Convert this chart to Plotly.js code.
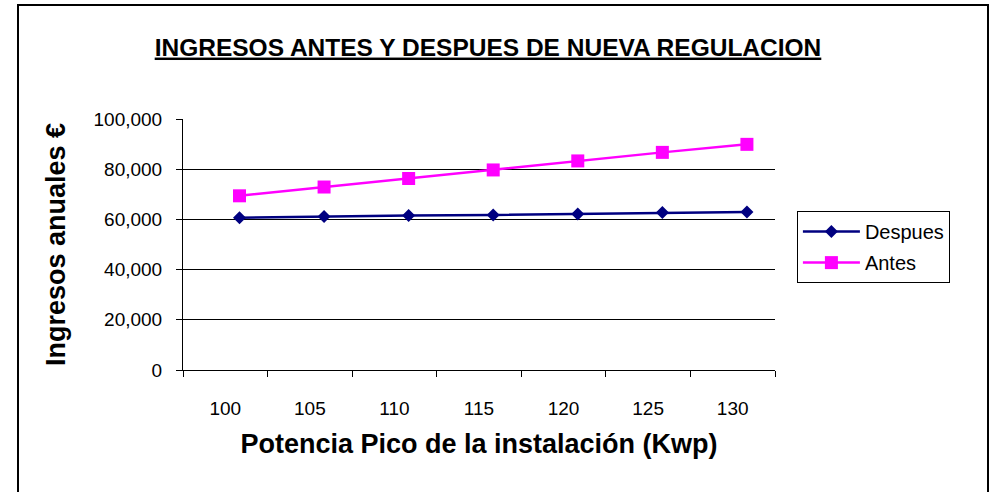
<!DOCTYPE html>
<html>
<head>
<meta charset="utf-8">
<script src="https://cdn.plot.ly/plotly-3.0.1.min.js"></script>
<style>
  html, body { margin: 0; padding: 0; background: #fff; }
  #wrap { position: relative; width: 991px; height: 492px; overflow: hidden; }
  #chart { position: absolute; left: 0; top: 0; width: 991px; height: 492px; }
  #frame { position: absolute; left: 17px; top: 4px; width: 968px; height: 520px;
           border: 2px solid #000; pointer-events: none; }
</style>
</head>
<body>
<div id="wrap">
  <div id="chart"></div>
  <div id="frame"></div>
</div>
<script>
// ---- data ----
const categories = ["100", "105", "110", "115", "120", "125", "130"];
const despues = [60700, 61200, 61600, 61800, 62200, 62700, 62900];
const antes   = [69400, 72900, 76300, 79700, 83300, 86700, 89900];
const yTicks  = [0, 20000, 40000, 60000, 80000, 100000];

const FONT = "Arial, 'Liberation Sans', sans-serif";

const traces = [
  { x: categories, y: despues, name: "Despues", type: "scatter", mode: "lines+markers",
    xaxis: "x", yaxis: "y", legendgroup: "a",
    line: { color: "#000080", width: 2.5 },
    marker: { symbol: "diamond", size: 10, color: "#000080" } },
  { x: categories, y: antes, name: "Antes", type: "scatter", mode: "lines+markers",
    xaxis: "x", yaxis: "y", legendgroup: "b",
    line: { color: "#FF00FF", width: 2.5 },
    marker: { symbol: "square", size: 13, color: "#FF00FF" } },
  // empty helper trace so the label axis (x2) is drawn
  { x: [], y: [], type: "scatter", mode: "markers", xaxis: "x2", yaxis: "y",
    showlegend: false, hoverinfo: "skip" }
];

const labelPos = categories.map((c, i) => i + 0.5);

const layout = {
  width: 991, height: 492,
  paper_bgcolor: "#fff", plot_bgcolor: "#fff",
  margin: { l: 183, r: 216, t: 119, b: 122 },
  font: { family: FONT, color: "#000", size: 19 },
  showlegend: true,
  title: {
    text: "<b><span style='text-decoration:underline'>INGRESOS ANTES Y DESPUES DE NUEVA REGULACION</span></b>",
    x: 488 / 991, xanchor: "center", xref: "container",
    y: 1 - 47 / 492, yanchor: "middle", yref: "container",
    font: { family: FONT, size: 24.5, color: "#000" }
  },
  xaxis: {
    type: "category", range: [-0.668, 6.332], visible: false, fixedrange: true
  },
  xaxis2: {
    type: "linear", overlaying: "x", anchor: "y", side: "bottom",
    range: [0, categories.length],
    showline: true, linecolor: "#000", linewidth: 1,
    showgrid: false, zeroline: false,
    tickmode: "array", tickvals: labelPos, ticktext: categories, ticks: "",
    ticklabelstandoff: 21,
    tickfont: { family: FONT, size: 19, color: "#000" },
    minor: { tickmode: "linear", tick0: 0, dtick: 1, ticks: "outside", ticklen: 6,
             tickcolor: "#000", tickwidth: 1, showgrid: false },
    title: { text: "<b>Potencia Pico de la instalación (Kwp)</b>", standoff: 16,
             font: { family: FONT, size: 27, color: "#000" } }
  },
  yaxis: {
    range: [0, 100000], tickmode: "array", tickvals: yTicks, tickformat: ",",
    showline: true, linecolor: "#000", linewidth: 1,
    showgrid: true, gridcolor: "#000", gridwidth: 1, zeroline: false,
    ticks: "outside", ticklen: 6, tickcolor: "#000",
    ticklabelstandoff: 10,
    tickfont: { family: FONT, size: 19, color: "#000" },
    title: { text: "<b>Ingresos anuales €</b>", standoff: 20,
             font: { family: FONT, size: 27, color: "#000" } }
  },
  legend: {
    x: 1.037, xanchor: "left", y: 0.633, yanchor: "top",
    bordercolor: "#000", borderwidth: 1, bgcolor: "#fff",
    font: { family: FONT, size: 20, color: "#000" },
    traceorder: "grouped", tracegroupgap: 2, itemwidth: 57
  }
};

Plotly.newPlot("chart", traces, layout, { displayModeBar: false, staticPlot: true });
</script>
</body>
</html>
